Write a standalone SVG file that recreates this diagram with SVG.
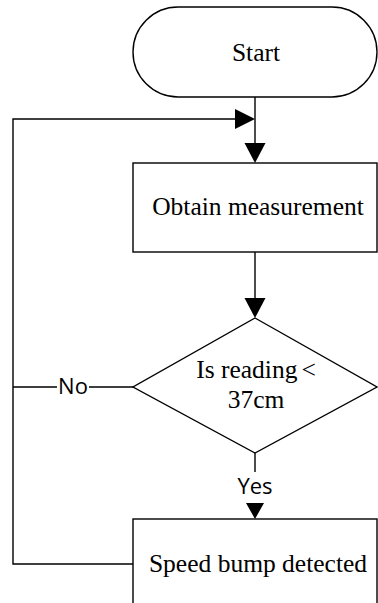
<svg xmlns="http://www.w3.org/2000/svg" width="378" height="603" viewBox="0 0 378 603">
  <style>
    .shape { fill: #ffffff; stroke: #000000; stroke-width: 1.4; }
    .line { fill: none; stroke: #000000; stroke-width: 1.4; }
    .head { fill: #000000; stroke: none; }
    .label { font-family: "Liberation Serif", "Times New Roman", serif; font-size: 25.5px; fill: #000000; text-anchor: middle; }
    .branch { font-family: "Open Sans", "Liberation Sans", sans-serif; font-size: 22px; fill: #000000; text-anchor: middle; }
  </style>
  <rect x="0" y="0" width="378" height="603" fill="#ffffff"/>

  <g id="connectors">
    <!-- start to measurement -->
    <path class="line" d="M255,97 V144"/>
    <polygon class="head" points="244.5,143 265.5,143 255,163"/>
    <!-- loop back from "No" and from detection -->
    <path class="line" d="M13,387 H57 M89,387 H133"/>
    <path class="line" d="M133,564 H13 V119 H236"/>
    <polygon class="head" points="235,109 235,129 255,119"/>
    <!-- measurement to decision -->
    <path class="line" d="M255,252 V299"/>
    <polygon class="head" points="244.5,298 265.5,298 255,318"/>
    <!-- decision to detection -->
    <path class="line" d="M255,453 V472"/>
    <polygon class="head" points="246,503 264,503 255,519"/>
    <text class="branch" x="73" y="394">No</text>
    <text class="branch" x="255" y="494">Yes</text>
  </g>

  <g id="start">
    <rect class="shape" x="133" y="7" width="244" height="90" rx="45" ry="45"/>
    <text class="label" x="256" y="61">Start</text>
  </g>

  <g id="obtain">
    <rect class="shape" x="133" y="163" width="244" height="89"/>
    <text class="label" x="258" y="215">Obtain measurement</text>
  </g>

  <g id="decision">
    <polygon class="shape" points="255,318 377,387 255,453 133,387"/>
    <text class="label" x="256" y="378">Is reading<tspan dx="4">&lt;</tspan></text>
    <text class="label" x="256" y="408">37cm</text>
  </g>

  <g id="detected">
    <rect class="shape" x="133" y="519" width="244" height="100"/>
    <text class="label" x="258" y="572">Speed bump detected</text>
  </g>
</svg>
